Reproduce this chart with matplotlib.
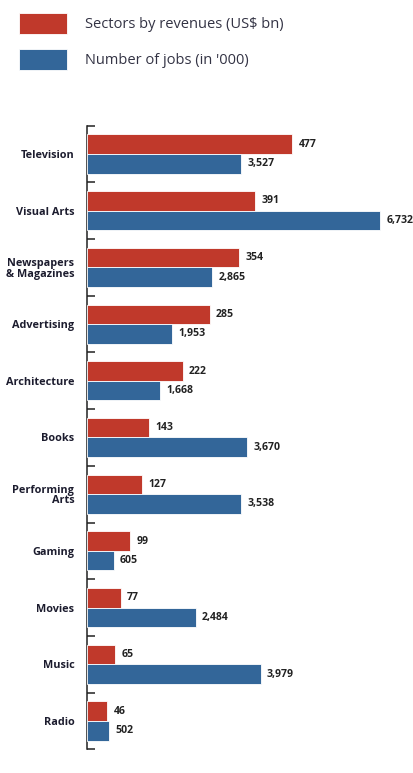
import matplotlib
matplotlib.use('Agg')
import matplotlib.pyplot as plt
from matplotlib.patches import Patch
import numpy as np

categories = ['Television', 'Visual Arts', 'Newspapers\n& Magazines', 'Advertising',
              'Architecture', 'Books', 'Performing\nArts', 'Gaming', 'Movies', 'Music', 'Radio']
revenues = [477, 391, 354, 285, 222, 143, 127, 99, 77, 65, 46]
jobs = [3527, 6732, 2865, 1953, 1668, 3670, 3538, 605, 2484, 3979, 502]
series_labels = ['Sectors by revenues (US$ bn)', "Number of jobs (in '000)"]

RED = '#c0392b'
BLUE = '#336699'

plt.rcParams['font.family'] = ['Open Sans', 'DejaVu Sans']

W, H = 414, 773
fig = plt.figure(figsize=(W / 100, H / 100), dpi=100)
fig.patch.set_facecolor('white')

ax_left = 87.5 / W
ax_bottom = 1 - 749.3 / H
ax_height = (749.3 - 125.7) / H
ax = fig.add_axes([ax_left, ax_bottom, 1 - ax_left, ax_height])
ax2 = ax.twiny()

n = len(categories)
y = np.arange(n) + 0.5
h = 0.345

ax.barh(y - h / 2, revenues, height=h, color=RED, edgecolor='white', linewidth=0.6, zorder=3)
ax2.barh(y + h / 2, jobs, height=h, color=BLUE, edgecolor='white', linewidth=0.6, zorder=3)

ax.set_xlim(0, 326.5 / 0.429)
ax2.set_xlim(0, 326.5 / 0.0435)
ax.set_ylim(n, 0)
ax2.set_ylim(n, 0)

for v, yy in zip(revenues, y - h / 2):
    ax.annotate(f'{v:,}', xy=(v, yy), xytext=(4.5, 0), textcoords='offset points',
                va='center', ha='left', fontsize=7.6, fontweight='bold', color='#222222',
                annotation_clip=False)
for v, yy in zip(jobs, y + h / 2):
    ax2.annotate(f'{v:,}', xy=(v, yy), xytext=(4.5, 0), textcoords='offset points',
                 va='center', ha='left', fontsize=7.6, fontweight='bold', color='#222222',
                 annotation_clip=False)

ax.set_yticks(y)
ax.set_yticklabels(categories, fontsize=7.8, fontweight='bold', color='#1c1c2e',
                   linespacing=0.95)
ax.set_yticks(np.arange(n + 1), minor=True)
ax.tick_params(axis='y', which='major', length=0, pad=9.5)
ax.tick_params(axis='y', which='minor', direction='in', length=5.5, width=1.1, color='#222222')
ax.set_xticks([])
ax2.set_xticks([])

for s in ['top', 'right', 'bottom']:
    ax.spines[s].set_visible(False)
ax.spines['left'].set_color('#222222')
ax.spines['left'].set_linewidth(1.1)
for s in ax2.spines.values():
    s.set_visible(False)
ax.patch.set_alpha(0)
ax2.patch.set_alpha(0)

handles = [Patch(facecolor=RED, edgecolor='white', linewidth=0.6),
           Patch(facecolor=BLUE, edgecolor='white', linewidth=0.6)]
fig.legend(handles, series_labels, loc='upper left', bbox_to_anchor=(19 / W, 1 - 13 / H),
           frameon=False, fontsize=10.5, handlelength=3.3, handleheight=1.85,
           handletextpad=1.25, labelspacing=1.0, borderpad=0, borderaxespad=0,
           labelcolor='#333344')

fig.savefig('out.png', dpi=100)
